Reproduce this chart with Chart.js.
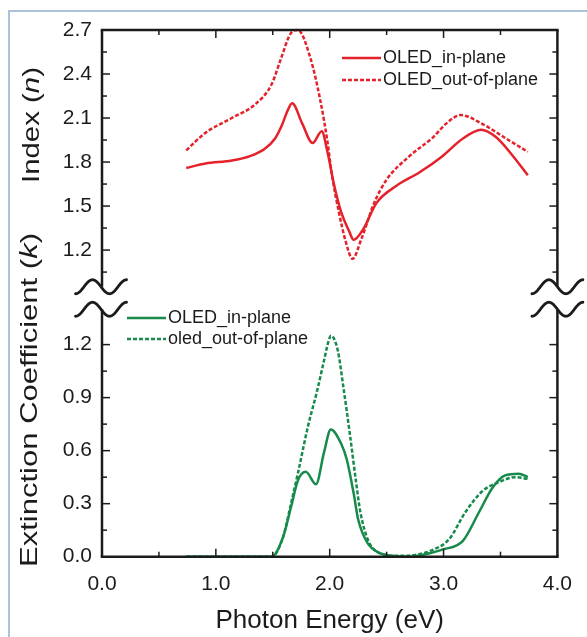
<!DOCTYPE html>
<html>
<head>
<meta charset="utf-8">
<script src="https://cdn.jsdelivr.net/npm/chart.js@4.4.1/dist/chart.umd.min.js"></script>
<style>
  html, body { margin: 0; padding: 0; background: #fff; }
</style>
</head>
<body>
<canvas id="chart" width="587" height="637"></canvas>
<script>
"use strict";

// refractive index n, in-plane (solid red)
const nInE = [0.74, 0.91, 1.14, 1.30, 1.43, 1.52, 1.58, 1.63, 1.67, 1.76, 1.85, 1.93, 1.98, 2.04, 2.10, 2.17, 2.21, 2.30, 2.41, 2.59, 2.79, 2.99, 3.17, 3.33, 3.46, 3.60, 3.74];
const nIn  = [1.76, 1.79, 1.81, 1.84, 1.89, 1.96, 2.05, 2.15, 2.20, 2.06, 1.93, 2.01, 1.87, 1.64, 1.46, 1.33, 1.27, 1.35, 1.52, 1.64, 1.73, 1.84, 1.96, 2.02, 1.97, 1.85, 1.71];

// refractive index n, out-of-plane (dashed red)
const nOutE = [0.74, 0.91, 1.14, 1.34, 1.49, 1.57, 1.66, 1.72, 1.83, 1.92, 1.98, 2.02, 2.08, 2.14, 2.20, 2.28, 2.39, 2.50, 2.70, 2.91, 3.02, 3.15, 3.34, 3.57, 3.74];
const nOut  = [1.88, 2.00, 2.10, 2.19, 2.33, 2.50, 2.68, 2.70, 2.51, 2.21, 1.94, 1.71, 1.46, 1.26, 1.14, 1.28, 1.52, 1.68, 1.84, 1.97, 2.06, 2.12, 2.06, 1.95, 1.87];

// extinction k, in-plane (solid green)
const kInE = [0.74, 1.49, 1.59, 1.66, 1.72, 1.79, 1.88, 1.95, 2.01, 2.10, 2.15, 2.21, 2.25, 2.33, 2.44, 2.55, 2.70, 2.88, 2.99, 3.17, 3.31, 3.43, 3.54, 3.66, 3.74];
const kIn  = [0, 0, 0.11, 0.28, 0.43, 0.48, 0.41, 0.59, 0.72, 0.64, 0.55, 0.36, 0.21, 0.08, 0.02, 0.005, 0, 0.02, 0.04, 0.09, 0.25, 0.39, 0.46, 0.47, 0.45];

// extinction k, out-of-plane (dashed green)
const kOutE = [0.74, 1.49, 1.59, 1.66, 1.72, 1.81, 1.89, 1.95, 1.99, 2.01, 2.07, 2.12, 2.18, 2.23, 2.27, 2.34, 2.44, 2.60, 2.75, 2.91, 3.05, 3.19, 3.34, 3.48, 3.63, 3.74];
const kOut  = [0, 0, 0.11, 0.30, 0.47, 0.74, 0.94, 1.11, 1.22, 1.25, 1.17, 0.96, 0.68, 0.43, 0.25, 0.09, 0.02, 0.005, 0.01, 0.04, 0.10, 0.25, 0.37, 0.42, 0.45, 0.44];

const xTicks = [0, 1, 2, 3, 4];
const nTicks = [1.2, 1.5, 1.8, 2.1, 2.4, 2.7];
const kTicks = [0, 0.3, 0.6, 0.9, 1.2];
const nPanel = [0.95, 2.7];   // visible part of the n axis
const kPanel = [0, 1.40];     // visible part of the k axis

const RED = "#e5222b";
const GREEN = "#178a4c";
const INK = "#1b1b1b";
const FONT = '"Liberation Sans", Arial, sans-serif';

function pts(xs, ys) {
  return xs.map((x, i) => ({ x: x, y: ys[i] }));
}

function line(label, data, color, dashed, axis) {
  return {
    label: label,
    data: data,
    yAxisID: axis,
    borderColor: color,
    backgroundColor: color,
    borderWidth: 2.5,
    borderDash: dashed ? [4, 2] : [],
    pointRadius: 0,
    cubicInterpolationMode: "monotone",
    fill: false,
    clip: 6
  };
}

function tick(ctx, x1, y1, x2, y2) {
  ctx.beginPath();
  ctx.moveTo(x1, y1);
  ctx.lineTo(x2, y2);
  ctx.stroke();
}

function wave(ctx, ax, cy) {
  ctx.beginPath();
  for (let dx = -25.5; dx <= 25.5; dx += 0.5) {
    const y = cy + 7 * Math.sin(Math.PI * dx / 17);
    if (dx === -25.5) ctx.moveTo(ax + dx, y); else ctx.lineTo(ax + dx, y);
  }
  ctx.stroke();
}

// rotated y title, stretched along its length like the source figure
function yTitle(ctx, runs, baseX, cy, len) {
  ctx.save();
  let total = 0;
  runs.forEach(r => { ctx.font = r.font; total += ctx.measureText(r.t).width; });
  ctx.translate(baseX, cy);
  ctx.rotate(-Math.PI / 2);
  ctx.scale(len / total, 1);
  ctx.textBaseline = "alphabetic";
  ctx.textAlign = "left";
  ctx.fillStyle = INK;
  let x = -total / 2;
  runs.forEach(r => {
    ctx.font = r.font;
    ctx.fillText(r.t, x, 0);
    x += ctx.measureText(r.t).width;
  });
  ctx.restore();
}

function legend(ctx, sets, labels, x0, y0, dy) {
  ctx.save();
  ctx.font = "18px " + FONT;
  ctx.textBaseline = "middle";
  ctx.fillStyle = INK;
  sets.forEach((ds, i) => {
    const y = y0 + i * dy;
    ctx.strokeStyle = ds.borderColor;
    ctx.lineWidth = ds.borderWidth;
    ctx.setLineDash(ds.borderDash);
    tick(ctx, x0, y, x0 + 39, y);
    ctx.setLineDash([]);
    ctx.fillText(labels[i], x0 + 41, y);
  });
  ctx.restore();
}

const brokenAxes = {
  id: "brokenAxes",
  beforeDraw(chart) {
    const ctx = chart.ctx;
    ctx.save();
    ctx.strokeStyle = "#aac4db";
    ctx.lineWidth = 2;
    ctx.beginPath();
    ctx.moveTo(9, 637);
    ctx.lineTo(9, 11);
    ctx.lineTo(587, 11);
    ctx.stroke();
    ctx.restore();
  },
  afterDraw(chart) {
    const ctx = chart.ctx;
    const a = chart.chartArea;
    const xs = chart.scales.x, yn = chart.scales.y, yk = chart.scales.yk;
    const brk1 = yn.getPixelForValue(nPanel[0]);
    const brk2 = yk.getPixelForValue(kPanel[1]);

    ctx.save();
    ctx.strokeStyle = INK;
    ctx.lineCap = "butt";

    // frame
    ctx.lineWidth = 2.5;
    tick(ctx, a.left - 1.25, a.top, a.right + 1.25, a.top);
    tick(ctx, a.left - 1.25, a.bottom, a.right + 1.25, a.bottom);
    [a.left, a.right].forEach(x => {
      tick(ctx, x, a.top, x, brk1);
      tick(ctx, x, brk2, x, a.bottom);
    });

    // x ticks, inward on top and bottom
    ctx.lineWidth = 1.5;
    for (let v = 0.5; v < 4; v += 0.5) {
      const px = xs.getPixelForValue(v);
      const len = Number.isInteger(v) ? 8 : 5;
      tick(ctx, px, a.top, px, a.top + len);
      tick(ctx, px, a.bottom, px, a.bottom - len);
    }

    // y ticks, both panels, left and right
    const yTicks = (scale, majors) => {
      const step = majors[1] - majors[0];
      majors.forEach((v, i) => {
        const py = scale.getPixelForValue(v);
        if (i > 0 || scale === yn) {
          tick(ctx, a.left, py, a.left + 8, py);
          tick(ctx, a.right, py, a.right - 8, py);
        }
        const pm = scale.getPixelForValue(v - step / 2);
        if (v - step / 2 > 0) {
          tick(ctx, a.left, pm, a.left + 5, pm);
          tick(ctx, a.right, pm, a.right - 5, pm);
        }
      });
    };
    yTicks(yn, nTicks);
    yTicks(yk, kTicks);

    // y tick labels
    ctx.fillStyle = INK;
    ctx.font = "21px " + FONT;
    ctx.textAlign = "right";
    ctx.textBaseline = "middle";
    nTicks.forEach(v => ctx.fillText(v.toFixed(1), a.left - 10, yn.getPixelForValue(v)));
    kTicks.forEach(v => ctx.fillText(v.toFixed(1), a.left - 10, yk.getPixelForValue(v)));

    // axis break marks
    ctx.lineWidth = 2.8;
    ctx.lineCap = "round";
    [a.left - 1, a.right].forEach(x => {
      wave(ctx, x, brk1);
      wave(ctx, x, brk2);
    });
    ctx.restore();

    yTitle(ctx, [
      { t: "Index (", font: "24px " + FONT },
      { t: "n", font: "italic 24px " + FONT },
      { t: ")", font: "24px " + FONT }
    ], 39, 125, 116);
    yTitle(ctx, [
      { t: "Extinction Coefficient (", font: "24px " + FONT },
      { t: "k", font: "italic 24px " + FONT },
      { t: ")", font: "24px " + FONT }
    ], 37, 400, 334);

    const ds = chart.data.datasets;
    legend(ctx, [ds[0], ds[1]], ["OLED_in-plane", "OLED_out-of-plane"], 342, 58, 22);
    legend(ctx, [ds[2], ds[3]], ["OLED_in-plane", "oled_out-of-plane"], 127, 318, 21);
  }
};

new Chart(document.getElementById("chart"), {
  type: "line",
  data: {
    datasets: [
      line("OLED_in-plane", pts(nInE, nIn), RED, false, "y"),
      line("OLED_out-of-plane", pts(nOutE, nOut), RED, true, "y"),
      line("OLED_in-plane", pts(kInE, kIn), GREEN, false, "yk"),
      line("oled_out-of-plane", pts(kOutE, kOut), GREEN, true, "yk")
    ]
  },
  options: {
    responsive: false,
    animation: false,
    layout: { padding: { left: 102, right: 24.3, top: 30, bottom: 0 } },
    plugins: {
      legend: { display: false },
      tooltip: { enabled: false }
    },
    scales: {
      x: {
        type: "linear",
        min: 0,
        max: 4,
        afterBuildTicks: s => { s.ticks = xTicks.map(v => ({ value: v })); },
        afterFit: s => { s.height = 80.3; },
        grid: { display: false, drawTicks: false, tickLength: 0 },
        border: { display: false },
        ticks: {
          padding: 15,
          color: INK,
          font: { family: FONT, size: 21 },
          maxRotation: 0,
          callback: v => v.toFixed(1)
        },
        title: {
          display: true,
          text: "Photon Energy (eV)",
          color: INK,
          font: { family: FONT, size: 26 },
          padding: { top: 0, bottom: 1 }
        }
      },
      // n and k share the plot; each range is set so its panel lands in place
      y: { type: "linear", display: false, min: -0.89, max: 2.7 },
      yk: { type: "linear", display: false, min: 0, max: 2.98 }
    }
  },
  plugins: [brokenAxes]
});
</script>
</body>
</html>
